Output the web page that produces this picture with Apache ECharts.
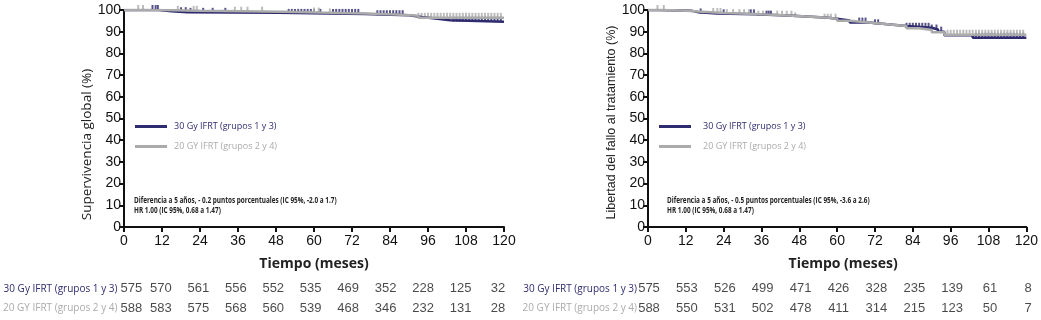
<!DOCTYPE html>
<html>
<head>
<meta charset="utf-8">
<script src="https://cdn.jsdelivr.net/npm/echarts@6/dist/echarts.min.js"></script>
<style>
  html, body { margin: 0; padding: 0; background: #fff; }
  #chart { width: 1041px; height: 320px; }
</style>
</head>
<body>
<div id="chart"></div>
<script>
// grupos
const groups = ['30 Gy IFRT (grupos 1 y 3)', '20 GY IFRT (grupos 2 y 4)'];
const months = [0, 12, 24, 36, 48, 60, 72, 84, 96, 108, 120];

// Supervivencia global (step: tiempo, %)
const os30Time = [0, 11, 15, 20, 49, 76, 90, 94, 99, 103, 120];
const os30Surv = [100, 99.4, 99.0, 98.7, 98.2, 97.6, 96.8, 96.0, 95.3, 94.6, 94.6];
const os20Time = [0, 12, 24, 50, 62, 76, 86, 93, 120];
const os20Surv = [100, 99.6, 99.2, 98.8, 98.4, 97.9, 97.4, 96.4, 96.4];
const os30Cens = [9, 10, 10.7, 18, 19.5, 21, 25, 28, 32, 52, 53, 54, 55, 56, 57, 58, 59, 60, 62,
  66, 67, 68, 69, 70, 71, 72, 73, 74, 80, 81, 82, 83, 84, 85, 86, 87, 88,
  104, 105, 106, 107, 108, 109, 110, 111, 112, 113, 114, 115, 116, 117, 118, 119];
const os20Cens = [4.5, 6, 17, 22, 23, 35, 37, 39, 43.6, 60, 61.5, 65,
  93, 94, 95, 96, 97, 98, 99, 100, 101, 102, 103, 104, 105, 106, 107, 108, 109, 110,
  111, 112, 113, 114, 115, 116, 117, 118, 119];

// Libertad del fallo al tratamiento
const ff30Time = [0, 3, 14, 16, 22, 34, 46, 56, 60, 64, 70, 76, 82, 90, 92, 94, 103, 120];
const ff30Surv = [100, 99.6, 99.0, 98.4, 98.0, 97.4, 96.6, 96.0, 95.2, 94.2, 93.4, 92.6, 91.8, 91.0, 90.0, 88.4, 87.2, 87.2];
const ff20Time = [0, 6, 12, 16, 24, 34, 46, 56, 60, 64, 70, 76, 82, 86, 90, 94, 120];
const ff20Surv = [100, 99.7, 99.3, 98.6, 98.1, 97.4, 96.6, 96.0, 95.0, 94.2, 93.4, 92.6, 91.6, 90.8, 89.8, 88.6, 88.6];
const ff30Cens = [16.7, 24, 32.6, 33.6, 37.6, 38.3, 39, 67, 68, 69, 72, 73,
  82, 83, 84, 85, 86, 87, 88, 89, 90, 91.5, 93,
  104, 105, 106, 107, 108, 109, 110, 111, 112, 113, 114, 115, 116, 117, 118, 119];
const ff20Cens = [3, 5, 20.7, 22, 23, 25, 27, 29, 30.5, 32, 35, 36.5, 41, 42.5, 44, 45.5, 46.7,
  56, 57, 58, 59.5, 95, 96, 97, 98, 99, 100, 101, 102, 103, 104, 105, 106, 107, 108, 109,
  110, 111, 112, 113, 114, 115, 116, 117, 118, 119];

// pacientes en riesgo
const osRisk30 = [575, 570, 561, 556, 552, 535, 469, 352, 228, 125, 32];
const osRisk20 = [588, 583, 575, 568, 560, 539, 468, 346, 232, 131, 28];
const ffRisk30 = [575, 553, 526, 499, 471, 426, 328, 235, 139, 61, 8];
const ffRisk20 = [588, 550, 531, 502, 478, 411, 314, 215, 123, 50, 7];

const notes = [
  ['Diferencia a 5 años, - 0.2 puntos porcentuales (IC 95%, -2.0 a 1.7)', 'HR 1.00 (IC 95%, 0.68 a 1.47)'],
  ['Diferencia a 5 años, - 0.5 puntos porcentuales (IC 95%, -3.6 a 2.6)', 'HR 1.00 (IC 95%, 0.68 a 1.47)'],
];

const NAVY = '#2e2b6e';
const GREY = '#ababab';
const AX = '#111';

const survAt = (times, surv, t) => {
  let v = surv[0];
  for (let i = 0; i < times.length; i++) if (times[i] <= t) v = surv[i];
  return v;
};
const steps = (times, surv) => times.map((t, i) => [t, surv[i]]);
const cens = (times, surv, c) => c.map(t => [t, survAt(times, surv, t)]);

const chart = echarts.init(document.getElementById('chart'), null, { renderer: 'canvas' });

const plotY = (idx, name, pad) => ({
  gridIndex: idx, type: 'value', min: 0, max: 100, interval: 10,
  name, nameLocation: 'middle', nameGap: 30,
  nameTextStyle: { fontFamily: idx === 0 ? 'Open Sans' : 'Liberation Sans', fontSize: idx === 0 ? 13.5 : 12.5, color: '#222', padding: pad },
  axisLine: { show: true, lineStyle: { color: AX, width: 2 } },
  axisTick: { show: true, length: 5, lineStyle: { color: AX, width: 2 } },
  axisLabel: { fontFamily: 'Liberation Sans', fontSize: 14, color: '#111', margin: 3 },
  splitLine: { show: false },
});
const plotX = (idx, pad) => ({
  gridIndex: idx, type: 'value', min: 0, max: 120, interval: 12,
  name: 'Tiempo (meses)', nameLocation: 'middle', nameGap: 30,
  nameTextStyle: { fontFamily: 'Open Sans', fontSize: 14, fontWeight: 'bold', color: '#222', padding: pad },
  axisLine: { lineStyle: { color: AX, width: 2 } },
  axisTick: { show: true, length: 5, lineStyle: { color: AX, width: 2 } },
  axisLabel: { fontFamily: 'Liberation Sans', fontSize: 14, color: '#111', margin: 7 },
  splitLine: { show: false },
});
const tableX = idx => ({ gridIndex: idx, type: 'value', min: 0, max: 120, show: false });
const tableY = (idx, margin) => ({
  gridIndex: idx, type: 'category', inverse: true, data: groups,
  axisLine: { show: false }, axisTick: { show: false }, splitLine: { show: false },
  axisLabel: {
    fontFamily: 'Open Sans', fontSize: 10, margin,
    color: (v, i) => (i === 0 ? NAVY : GREY),
  },
});

const stepLine = (name, idx, times, surv, color) => ({
  name, type: 'line', step: 'end', xAxisIndex: idx, yAxisIndex: idx,
  data: steps(times, surv), showSymbol: false, color,
  lineStyle: { color, width: 2.5 }, animation: false,
});
const censMarks = (idx, times, surv, c, color) => ({
  name: 'censura', type: 'scatter', xAxisIndex: idx, yAxisIndex: idx,
  data: cens(times, surv, c), symbol: 'rect', symbolSize: [2, 5], symbolOffset: [0, -2.5],
  itemStyle: { color }, silent: true, animation: false,
});
const riskRow = (idx, row, vals, firstOffset) => ({
  name: 'riesgo', type: 'scatter', xAxisIndex: idx, yAxisIndex: idx, symbolSize: 0,
  data: vals.map((v, i) => {
    const item = { value: [months[i], groups[row], v] };
    if (i === 0 && firstOffset) item.label = { offset: [firstOffset, 0] };
    return item;
  }),
  label: {
    show: true, position: 'inside', formatter: p => p.value[2],
    fontFamily: 'Liberation Sans', fontSize: 13, color: '#1a1a1a',
  },
  animation: false, silent: true,
});
const legendAt = (left, textPad) => ({
  left, top: 122, orient: 'vertical', itemGap: 11, padding: 0,
  icon: 'rect', itemWidth: 32, itemHeight: 3,
  textStyle: { fontFamily: 'Open Sans', fontSize: 9, padding: [0, 0, 0, textPad] },
  data: [
    { name: groups[0], textStyle: { color: NAVY } },
    { name: groups[1], textStyle: { color: GREY } },
  ],
  selectedMode: false,
});
const noteText = (x, lines) => lines.map((t, i) => ({
  type: 'text', left: x, top: 197 + i * 10,
  style: { text: t, font: 'bold 8px "Open Sans"', fill: '#222' },
  scaleX: 0.8,
}));

const option = {
  animation: false,
  grid: [
    { left: 124, top: 10, width: 380, height: 217 },
    { left: 648, top: 10, width: 380, height: 217 },
    { left: 120, top: 279, width: 378, height: 39 },
    { left: 649, top: 279, width: 379, height: 39 },
  ],
  xAxis: [plotX(0, [0, 0, 0, 0]), plotX(1, [0, 0, 0, 12]), tableX(2), tableX(3)],
  yAxis: [
    plotY(0, 'Supervivencia global (%)', [0, 52, 0, 0]),
    plotY(1, 'Libertad del fallo al tratamiento (%)', [0, 8, 0, 0]),
    tableY(2, 6), tableY(3, 12),
  ],
  legend: [legendAt(135, 2), legendAt(659, 7)],
  graphic: [...noteText(134, notes[0]), ...noteText(667, notes[1])],
  series: [
    stepLine(groups[0], 0, os30Time, os30Surv, NAVY),
    stepLine(groups[1], 0, os20Time, os20Surv, GREY),
    censMarks(0, os30Time, os30Surv, os30Cens, NAVY),
    censMarks(0, os20Time, os20Surv, os20Cens, GREY),
    stepLine(groups[0], 1, ff30Time, ff30Surv, NAVY),
    stepLine(groups[1], 1, ff20Time, ff20Surv, GREY),
    censMarks(1, ff30Time, ff30Surv, ff30Cens, NAVY),
    censMarks(1, ff20Time, ff20Surv, ff20Cens, GREY),
    riskRow(2, 0, osRisk30, 8),
    riskRow(2, 1, osRisk20, 8),
    riskRow(3, 0, ffRisk30, 0),
    riskRow(3, 1, ffRisk20, 0),
  ],
};

chart.setOption(option);
window.addEventListener('resize', () => chart.resize());
</script>
</body>
</html>
